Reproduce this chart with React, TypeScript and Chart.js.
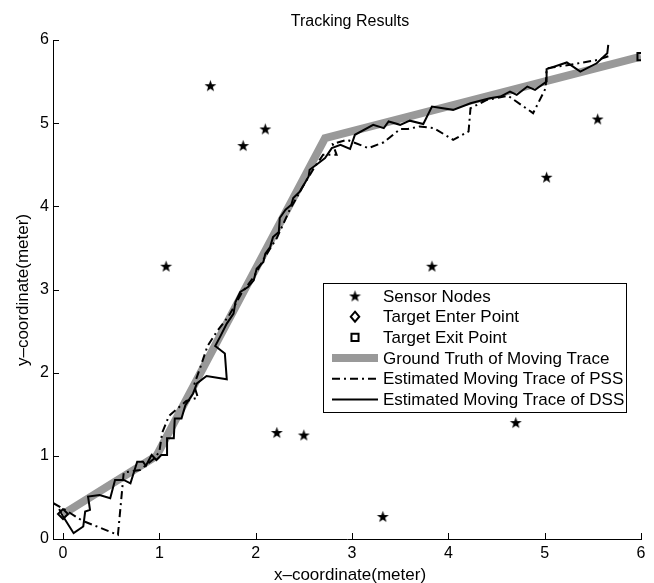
import React, { useEffect, useRef } from 'react';
import { Chart, registerables } from 'chart.js';

Chart.register(...registerables);

// ---------------- data ----------------
const xTicks = [0, 1, 2, 3, 4, 5, 6];
const yTicks = [0, 1, 2, 3, 4, 5, 6];

const sensorX = [1.53, 1.87, 2.1, 1.07, 2.22, 2.5, 3.32, 3.83, 4.7, 5.02, 5.55];
const sensorY = [5.45, 4.73, 4.93, 3.28, 1.28, 1.25, 0.27, 3.28, 1.4, 4.35, 5.05];

const enterX = [0];
const enterY = [0.3];
const exitX = [6];
const exitY = [5.8];

const truthX = [0, 0.97, 2.72, 6];
const truthY = [0.3, 1.0, 4.82, 5.8];

const pssX = [-0.1, 0.05, 0.2, 0.57, 0.62, 0.63, 0.8, 0.95, 1.0, 1.03, 1.1, 1.28, 1.4, 1.36, 1.43, 1.5, 1.6, 1.72, 1.85, 1.98, 2.1, 2.22, 2.35, 2.48, 2.6, 2.7, 2.84, 2.8, 2.95, 3.17, 3.33, 3.5, 3.58, 3.7, 3.85, 4.05, 4.21, 4.23, 4.4, 4.62, 4.88, 5.01, 5.02, 5.25, 5.55, 5.7];
const pssY = [0.43, 0.33, 0.22, 0.05, 0.67, 0.8, 0.83, 0.97, 1.05, 1.28, 1.48, 1.66, 1.7, 1.85, 2.08, 2.32, 2.5, 2.68, 2.95, 3.15, 3.4, 3.62, 3.95, 4.22, 4.45, 4.62, 4.62, 4.75, 4.8, 4.7, 4.77, 4.93, 4.93, 4.96, 4.94, 4.8, 4.9, 5.18, 5.28, 5.33, 5.12, 5.42, 5.66, 5.7, 5.76, 5.82];

const dssX = [-0.04, -0.01, 0.11, 0.21, 0.23, 0.28, 0.26, 0.38, 0.49, 0.54, 0.63, 0.7, 0.77, 0.83, 0.86, 0.92, 0.97, 1.02, 1.08, 1.08, 1.15, 1.16, 1.23, 1.27, 1.35, 1.39, 1.49, 1.7, 1.68, 1.58, 1.63, 1.7, 1.77, 1.79, 1.84, 1.92, 1.98, 2.01, 2.08, 2.1, 2.15, 2.18, 2.24, 2.25, 2.31, 2.37, 2.39, 2.46, 2.5, 2.55, 2.56, 2.63, 2.72, 2.79, 2.88, 2.98, 3.03, 3.22, 3.33, 3.38, 3.5, 3.6, 3.74, 3.83, 4.05, 4.23, 4.3, 4.43, 4.54, 4.64, 4.71, 4.82, 4.9, 5.02, 5.02, 5.23, 5.37, 5.54, 5.65, 5.66];
const dssY = [0.36, 0.29, 0.07, 0.15, 0.33, 0.35, 0.51, 0.53, 0.49, 0.71, 0.71, 0.67, 0.93, 0.93, 0.88, 1.01, 0.95, 1.01, 1.01, 1.21, 1.21, 1.45, 1.45, 1.61, 1.75, 1.87, 1.96, 1.92, 2.23, 2.32, 2.43, 2.59, 2.71, 2.85, 2.97, 3.03, 3.11, 3.25, 3.33, 3.43, 3.51, 3.63, 3.69, 3.86, 3.96, 4.02, 4.1, 4.18, 4.26, 4.36, 4.44, 4.5, 4.58, 4.7, 4.74, 4.69, 4.86, 4.98, 4.94, 5.02, 4.98, 5.03, 4.99, 5.2, 5.16, 5.24, 5.26, 5.3, 5.32, 5.38, 5.34, 5.44, 5.4, 5.5, 5.65, 5.73, 5.62, 5.72, 5.84, 5.94];

const labels = [
  'Sensor Nodes',
  'Target Enter Point',
  'Target Exit Point',
  'Ground Truth of Moving Trace',
  'Estimated Moving Trace of PSS',
  'Estimated Moving Trace of DSS',
];

const titleText = 'Tracking Results';
const xTitleText = 'x\u2013coordinate(meter)';
const yTitleText = 'y\u2013coordinate(meter)';

// ---------------- helpers ----------------
const FONT = '"Liberation Sans", Arial, Helvetica, sans-serif';
const pts = (xs: number[], ys: number[]) => xs.map((x, i) => ({ x, y: ys[i] }));

function makeStar(size: number): HTMLCanvasElement {
  const c = document.createElement('canvas');
  c.width = size;
  c.height = size;
  const g = c.getContext('2d')!;
  const cx = size / 2;
  const cy = size / 2 + 0.5;
  const R = size / 2 - 0.3;
  const r = R * 0.4;
  g.beginPath();
  for (let i = 0; i < 10; i++) {
    const a = -Math.PI / 2 + (i * Math.PI) / 5;
    const rr = i % 2 ? r : R;
    g.lineTo(cx + rr * Math.cos(a), cy + rr * Math.sin(a));
  }
  g.closePath();
  g.fillStyle = '#000';
  g.fill();
  return c;
}

const overlay = {
  id: 'overlay',
  afterDraw(chart: any) {
    const { ctx, chartArea, scales } = chart;
    const ca = chartArea;
    ctx.save();
    // inward tick marks
    ctx.strokeStyle = '#000';
    ctx.lineWidth = 1;
    ctx.setLineDash([]);
    for (const v of xTicks) {
      const px = Math.round(scales.x.getPixelForValue(v)) + 0.5;
      ctx.beginPath();
      ctx.moveTo(px, ca.bottom);
      ctx.lineTo(px, ca.bottom - 6);
      ctx.stroke();
    }
    for (const v of yTicks) {
      const py = Math.round(scales.y.getPixelForValue(v)) + 0.5;
      ctx.beginPath();
      ctx.moveTo(ca.left, py);
      ctx.lineTo(ca.left + 6, py);
      ctx.stroke();
    }

    // titles
    ctx.fillStyle = '#000';
    ctx.textAlign = 'center';
    ctx.textBaseline = 'middle';
    ctx.font = `16px ${FONT}`;
    ctx.fillText(titleText, 350, 22);
    ctx.font = `17px ${FONT}`;
    ctx.fillText(xTitleText, 350, 575);
    ctx.save();
    ctx.translate(23, 290);
    ctx.rotate(-Math.PI / 2);
    ctx.fillText(yTitleText, 0, 0);
    ctx.restore();

    // legend
    const box = { l: 323.5, t: 283.5, r: 626.5, b: 412.5 };
    ctx.fillStyle = '#fff';
    ctx.fillRect(box.l, box.t, box.r - box.l, box.b - box.t);
    ctx.strokeStyle = '#000';
    ctx.lineWidth = 1;
    ctx.strokeRect(box.l, box.t, box.r - box.l, box.b - box.t);
    const ds = chart.data.datasets;
    const rowY0 = 296;
    const rowStep = 20.7;
    ctx.font = `17px ${FONT}`;
    ds.forEach((d: any, i: number) => {
      const y = rowY0 + i * rowStep;
      const x0 = 332;
      const x1 = 378;
      const xm = 355;
      ctx.save();
      if (d.showLine) {
        ctx.strokeStyle = d.borderColor;
        ctx.lineWidth = d.borderWidth;
        ctx.setLineDash(d.borderDash || []);
        ctx.lineCap = 'butt';
        ctx.beginPath();
        ctx.moveTo(x0, y);
        ctx.lineTo(x1, y);
        ctx.stroke();
      } else if (d.pointStyle instanceof HTMLCanvasElement) {
        const im = d.pointStyle;
        ctx.drawImage(im, xm - im.width / 2, y - im.height / 2);
      } else {
        ctx.strokeStyle = '#000';
        ctx.lineWidth = d.pointBorderWidth;
        ctx.beginPath();
        const r = d.pointRadius;
        if (d.pointStyle === 'rectRot') {
          ctx.moveTo(xm, y - r);
          ctx.lineTo(xm + r * 0.85, y);
          ctx.lineTo(xm, y + r);
          ctx.lineTo(xm - r * 0.85, y);
          ctx.closePath();
        } else {
          const s = r * Math.SQRT1_2;
          ctx.rect(xm - s, y - s, 2 * s, 2 * s);
        }
        ctx.stroke();
      }
      ctx.restore();
      ctx.fillStyle = '#000';
      ctx.textAlign = 'left';
      ctx.textBaseline = 'middle';
      ctx.fillText(d.label, 383, y + 1);
    });
    ctx.restore();
  },
};

export default function App() {
  const ref = useRef<HTMLCanvasElement>(null);
  useEffect(() => {
    document.body.style.margin = '0';
    const star = makeStar(13);
    const tickFont = { family: FONT, size: 16 };
    const chart = new Chart(ref.current!, {
      type: 'scatter',
      data: {
        datasets: [
          {
            label: labels[0],
            data: pts(sensorX, sensorY),
            pointStyle: star as any,
            pointRadius: 6,
            showLine: false,
            order: 3,
          },
          {
            label: labels[1],
            data: pts(enterX, enterY),
            pointStyle: 'rectRot',
            pointRadius: 5,
            pointBorderWidth: 2,
            borderColor: '#000',
            pointBorderColor: '#000',
            pointBackgroundColor: 'rgba(0,0,0,0)',
            backgroundColor: 'rgba(0,0,0,0)',
            showLine: false,
            order: -1,
          },
          {
            label: labels[2],
            data: pts(exitX, exitY),
            pointStyle: 'rect',
            pointRadius: 5,
            pointBorderWidth: 2,
            borderColor: '#000',
            pointBorderColor: '#000',
            pointBackgroundColor: 'rgba(0,0,0,0)',
            backgroundColor: 'rgba(0,0,0,0)',
            showLine: false,
            order: -1,
          },
          {
            label: labels[3],
            data: pts(truthX, truthY),
            showLine: true,
            borderColor: '#999999',
            borderWidth: 8,
            borderJoinStyle: 'miter',
            pointRadius: 0,
            order: 2,
          },
          {
            label: labels[4],
            data: pts(pssX, pssY),
            showLine: true,
            borderColor: '#000',
            borderWidth: 2,
            borderDash: [8, 4, 2, 4],
            pointRadius: 0,
            order: 1,
          },
          {
            label: labels[5],
            data: pts(dssX, dssY),
            showLine: true,
            borderColor: '#000',
            borderWidth: 2,
            pointRadius: 0,
            order: 0,
          },
        ] as any,
      },
      options: {
        animation: false,
        responsive: false,
        maintainAspectRatio: false,
        layout: { padding: { left: 0, right: 13, top: 40, bottom: 0 } },
        plugins: {
          legend: { display: false },
          title: { display: false },
          tooltip: { enabled: false },
        },
        scales: {
          x: {
            type: 'linear',
            min: -0.104,
            max: 6,
            afterBuildTicks: (s: any) => {
              s.ticks = xTicks.map((v) => ({ value: v }));
            },
            afterFit: (s: any) => {
              s.height = 44;
            },
            ticks: { font: tickFont, color: '#000', padding: 5, maxRotation: 0 },
            grid: { display: false, drawTicks: false },
            border: { display: true, color: '#000', width: 1 },
          },
          y: {
            type: 'linear',
            min: 0,
            max: 6,
            afterBuildTicks: (s: any) => {
              s.ticks = yTicks.map((v) => ({ value: v }));
            },
            afterFit: (s: any) => {
              s.width = 53;
            },
            ticks: { font: tickFont, color: '#000', padding: 4 },
            grid: { display: false, drawTicks: false },
            border: { display: true, color: '#000', width: 1 },
          },
        },
      } as any,
      plugins: [overlay],
    });
    return () => chart.destroy();
  }, []);
  return (
    <div style={{ width: 654, height: 583 }}>
      <canvas ref={ref} width={654} height={583} style={{ display: 'block' }} />
    </div>
  );
}
